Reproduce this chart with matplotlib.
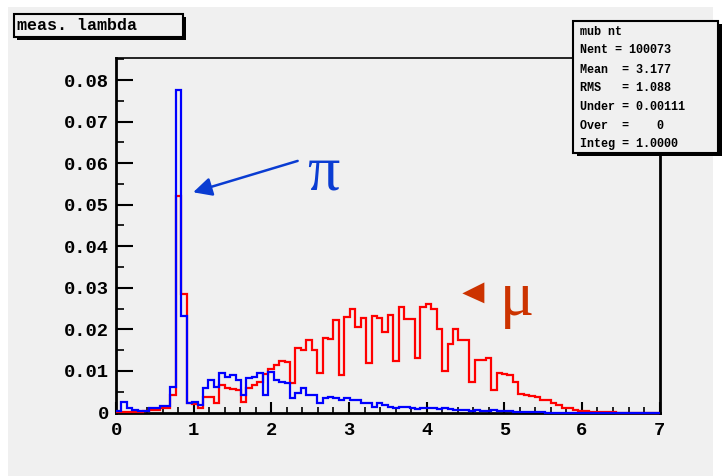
import numpy as np
import matplotlib.pyplot as plt
from matplotlib.patches import Rectangle, Polygon
from matplotlib.ticker import MultipleLocator, FuncFormatter

# 100 bins between 0 and 7
edges = np.linspace(0, 7, 101)

pi_hist = [0.0003, 0.0025, 0.0012, 0.0006, 0.0004, 0.0004, 0.0011, 0.0012, 0.0016, 0.0016,
           0.0062, 0.0775, 0.0233, 0.0024, 0.0025, 0.0018, 0.0058, 0.0078, 0.0062, 0.0094,
           0.0086, 0.0090, 0.0078, 0.0042, 0.0082, 0.0086, 0.0094, 0.0042, 0.0098, 0.0078,
           0.0074, 0.0072, 0.0034, 0.0046, 0.0058, 0.0042, 0.0042, 0.0022, 0.0034, 0.0038,
           0.0036, 0.0030, 0.0034, 0.0030, 0.0030, 0.0022, 0.0022, 0.0014, 0.0022, 0.0018,
           0.0014, 0.0012, 0.0014, 0.0014, 0.0012, 0.0008, 0.0010, 0.0012, 0.0010, 0.0008,
           0.0010, 0.0008, 0.0006, 0.0006, 0.0006, 0.0004, 0.0006, 0.0004, 0.0004, 0.0006,
           0.0004, 0.0003, 0.0003, 0.0002, 0.0002, 0.0002, 0.0001, 0.0001, 0.0001, 0.0,
           0.0, 0.0, 0.0, 0.0, 0.0, 0.0, 0.0, 0.0, 0.0, 0.0,
           0.0, 0.0, 0.0, 0.0, 0.0, 0.0, 0.0, 0.0, 0.0, 0.0]

mu_hist = [0.0001, 0.0002, 0.0001, 0.0002, 0.0002, 0.0004, 0.0006, 0.0006, 0.0010, 0.0010,
           0.0042, 0.0520, 0.0285, 0.0022, 0.0020, 0.0010, 0.0038, 0.0038, 0.0022, 0.0065,
           0.0058, 0.0056, 0.0054, 0.0026, 0.0058, 0.0066, 0.0074, 0.0092, 0.0104, 0.0114,
           0.0123, 0.0122, 0.0071, 0.0155, 0.0150, 0.0174, 0.0150, 0.0096, 0.0180, 0.0176,
           0.0222, 0.0090, 0.0230, 0.0249, 0.0206, 0.0227, 0.0118, 0.0232, 0.0227, 0.0194,
           0.0235, 0.0124, 0.0253, 0.0225, 0.0224, 0.0130, 0.0253, 0.0260, 0.0250, 0.0202,
           0.0100, 0.0166, 0.0202, 0.0174, 0.0174, 0.0074, 0.0126, 0.0126, 0.0130, 0.0054,
           0.0096, 0.0092, 0.0090, 0.0074, 0.0045, 0.0042, 0.0040, 0.0038, 0.0030, 0.0030,
           0.0022, 0.0018, 0.0012, 0.0010, 0.0006, 0.0004, 0.0003, 0.0002, 0.0002, 0.0002,
           0.0002, 0.0002, 0.0, 0.0, 0.0, 0.0, 0.0, 0.0, 0.0, 0.0]

stats_lines = ['mub nt', 'Nent = 100073', 'Mean  = 3.177', 'RMS   = 1.088',
               'Under = 0.00111', 'Over  =    0', 'Integ = 1.0000']

bg = '#f0f0f0'
fig = plt.figure(figsize=(7.22, 4.76), dpi=100, facecolor='white')
fig.patches.append(Rectangle((8 / 722, 0), 705 / 722, 469 / 476, transform=fig.transFigure,
                             facecolor=bg, edgecolor='none', zorder=-1))

ax = fig.add_axes([0.1607, 0.1334, 0.7529, 0.7447])
ax.set_zorder(1)
ax.set_facecolor(bg)

ax.stairs(mu_hist, edges, color='#ff0000', lw=1.6, baseline=None, zorder=3, clip_on=False)
ax.stairs(pi_hist, edges, color='#0000ff', lw=1.6, baseline=None, zorder=4, clip_on=False)

ax.set_xlim(0, 7)
ax.set_ylim(0, 0.0853)

for side in ['left', 'bottom', 'right']:
    ax.spines[side].set_linewidth(2)
ax.spines['top'].set_linewidth(1.2)

ax.xaxis.set_major_locator(MultipleLocator(1))
ax.xaxis.set_minor_locator(MultipleLocator(0.2))
ax.yaxis.set_major_locator(MultipleLocator(0.01))
ax.yaxis.set_minor_locator(MultipleLocator(0.005))
ax.yaxis.set_major_formatter(FuncFormatter(lambda v, p: '0' if abs(v) < 1e-9 else '%.2f' % v))
ax.xaxis.set_major_formatter(FuncFormatter(lambda v, p: '%d' % round(v)))

ax.tick_params(axis='x', which='major', direction='in', length=8, width=1.5, pad=7)
ax.tick_params(axis='x', which='minor', direction='in', length=4, width=1.2)
ax.tick_params(axis='y', which='major', direction='in', length=12, width=1.5, pad=5)
ax.tick_params(axis='y', which='minor', direction='in', length=6, width=1.2)
for lab in ax.get_xticklabels() + ax.get_yticklabels():
    lab.set_fontfamily('Liberation Mono')
    lab.set_fontweight('bold')
    lab.set_fontsize(13.5)

# pi arrow and label
pi_col = '#0a3cd2'
ax.annotate('', xy=(0.137, 0.619), xytext=(0.339, 0.712), xycoords='axes fraction',
            arrowprops=dict(arrowstyle='-|>', color=pi_col, lw=1.8, mutation_scale=28))
ax.text(0.381, 0.628, '\u03c0', transform=ax.transAxes, color=pi_col, fontsize=46,
        family='Liberation Serif', ha='center', va='baseline')

# mu marker and label
mu_col = '#cc3300'
ax.add_patch(Polygon([(0.6371, 0.336), (0.6776, 0.367), (0.6776, 0.308)], closed=True,
                     transform=ax.transAxes, facecolor=mu_col, edgecolor='none', clip_on=False))
ax.text(0.738, 0.275, '\u03bc', transform=ax.transAxes, color=mu_col, fontsize=46,
        family='Liberation Serif', ha='center', va='baseline')

# title box
fig.patches.append(Rectangle((17 / 722, 1 - 40 / 476), 169 / 722, 23 / 476, transform=fig.transFigure,
                             facecolor='black', edgecolor='none', zorder=5))
fig.patches.append(Rectangle((14 / 722, 1 - 37 / 476), 169 / 722, 23 / 476, transform=fig.transFigure,
                             facecolor=bg, edgecolor='black', lw=1.5, zorder=6))
fig.text(17 / 722, 1 - 26 / 476, 'meas. lambda', family='Liberation Mono', weight='bold',
         fontsize=12, va='center', ha='left', zorder=7)

# stats box
fig.patches.append(Rectangle((577 / 722, 1 - 156 / 476), 145 / 722, 132 / 476, transform=fig.transFigure,
                             facecolor='black', edgecolor='none', zorder=5))
fig.patches.append(Rectangle((573 / 722, 1 - 153 / 476), 145 / 722, 132 / 476, transform=fig.transFigure,
                             facecolor=bg, edgecolor='black', lw=1.5, zorder=6))
line_y = [31.7, 50, 70, 88, 107, 126, 144]
for txt, yy in zip(stats_lines, line_y):
    fig.text(580 / 722, 1 - yy / 476, txt, family='Liberation Mono', weight='bold',
             fontsize=8.5, va='center', ha='left', zorder=7)

plt.savefig('out.png', dpi=100, facecolor=fig.get_facecolor())
